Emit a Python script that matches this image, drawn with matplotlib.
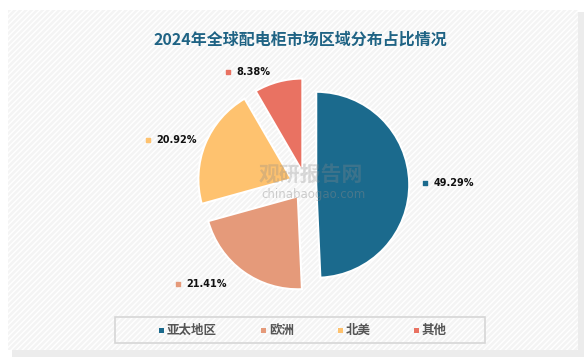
import numpy as np
import matplotlib

matplotlib.use("Agg")
import matplotlib.pyplot as plt
from matplotlib.patches import Rectangle

plt.rcParams["font.family"] = ["Noto Sans CJK SC", "DejaVu Sans"]
plt.rcParams["hatch.color"] = "white"
plt.rcParams["hatch.linewidth"] = 1.0

# data
REGIONS = ["亚太地区", "欧洲", "北美", "其他"]
SHARES = [49.29, 21.41, 20.92, 8.38]
COLORS = ["#1b6a8d", "#e59a7a", "#fec26f", "#e97262"]
TITLE = "2024年全球配电柜市场区域分布占比情况"

W, H = 587, 360
fig = plt.figure(figsize=(W / 100, H / 100), dpi=100)
fig.patch.set_facecolor("white")

# panel with soft shadow and diagonal hatch
fig.patches.append(Rectangle((12 / W, 3 / H), 572 / W, 345 / H, transform=fig.transFigure,
                             fc="#ececec", ec="none", zorder=-10))
fig.patches.append(Rectangle((8 / W, 10 / H), 570 / W, 340 / H, transform=fig.transFigure,
                             fc="#f4f4f4", ec="none", zorder=-9))
fig.patches.append(Rectangle((8 / W, 10 / H), 570 / W, 340 / H, transform=fig.transFigure,
                             fc="none", ec="white", hatch="//////", lw=0, zorder=-8))

fig.text(300 / W, 1 - 40 / H, TITLE, ha="center", va="center", fontsize=11.5,
         fontweight="bold", color="#1f6384")

# pie axes: center ~(306,185) px, radius ~93 px
R = 93
half = 1.45 * R
ax = fig.add_axes([(306 - half) / W, (H - 185 - half) / H, 2 * half / W, 2 * half / H])

wedges, _ = ax.pie(SHARES, colors=COLORS, startangle=90, counterclock=False,
                   explode=[0.11, 0.15, 0.17, 0.15], radius=1.0,
                   wedgeprops={"edgecolor": "white", "linewidth": 1.5})
ax.set_xlim(-1.45, 1.45)
ax.set_ylim(-1.45, 1.45)
ax.axis("off")

# watermark
ax.text(0.05, 0.12, "观研报告网", ha="center", va="center", fontsize=15, fontweight="bold",
        color="#8a8a8a", alpha=0.3, zorder=5)
ax.text(0.08, -0.1, "chinabaogao.com", ha="center", va="center", fontsize=8.5,
        color="#8a8a8a", alpha=0.4, zorder=5, family="DejaVu Sans")

label_pos = {0: (1.28, 0.02), 1: (-1.38, -1.06), 2: (-1.7, 0.48), 3: (-0.84, 1.22)}
for i, (w, v) in enumerate(zip(wedges, SHARES)):
    x, y = label_pos[i]
    ax.scatter([x], [y], marker="s", s=9, color=COLORS[i], zorder=6, clip_on=False)
    ax.text(x + 0.09, y, f"{v:.2f}%", ha="left", va="center", fontsize=7,
            fontweight="bold", color="#111111", family="DejaVu Sans", zorder=6)

# legend box
fig.patches.append(Rectangle((115 / W, 1 - 343 / H), 370 / W, 26 / H, transform=fig.transFigure,
                             fc="none", ec="#d6d6d6", lw=1.2, zorder=1))
leg_x = [159, 261, 338, 414]
for lx, name, c in zip(leg_x, REGIONS, COLORS):
    fig.patches.append(Rectangle((lx / W, 1 - 333 / H), 5 / W, 5 / H, transform=fig.transFigure,
                                 fc=c, ec="none", zorder=2))
    fig.text((lx + 8) / W, 1 - 330 / H, name, ha="left", va="center", fontsize=9,
             fontweight="bold", color="#555555")

fig.savefig("out.png", dpi=100, facecolor="white")
